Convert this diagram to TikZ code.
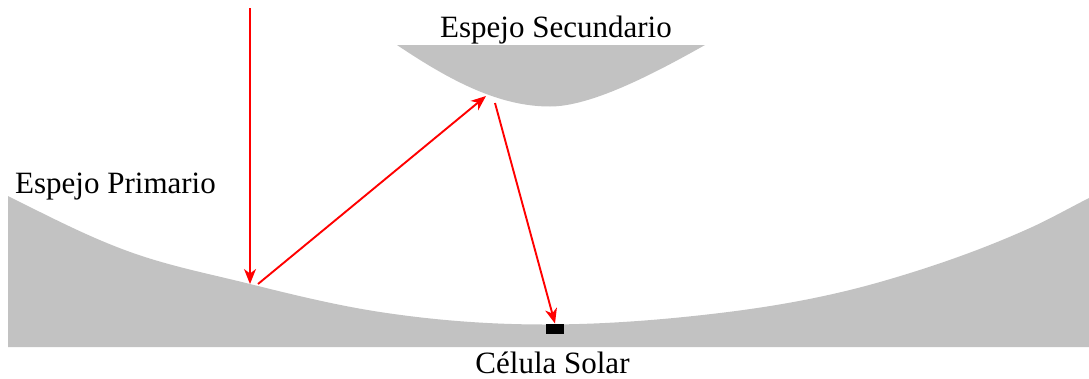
\documentclass[tikz,border=0pt]{standalone}
\usepackage{fontspec}
\setmainfont{Liberation Serif}
\usetikzlibrary{arrows.meta}
\definecolor{mirror}{RGB}{194,194,194}
\tikzset{ray/.style={draw=red,line width=1.9pt,-{Stealth[length=15pt,width=12pt,inset=4.5pt]}},
lab/.style={font=\fontsize{31pt}{33pt}\selectfont,inner sep=0pt,anchor=base}}
\begin{document}
\begin{tikzpicture}[x=1pt,y=-1pt]
\useasboundingbox (0,0) rectangle (1089,378);
\fill[mirror] (8,196) .. controls (49.7,216.8) and (91.3,238.4) .. (133,253)
 .. controls (172,266.7) and (211,274.2) .. (250,284)
 .. controls (293.3,294.8) and (336.7,305.4) .. (380,312)
 .. controls (435,320.4) and (490,324.5) .. (545,324.5)
 .. controls (603.3,324.5) and (661.7,320) .. (720,313)
 .. controls (773.3,306.6) and (826.7,297.2) .. (880,282)
 .. controls (930,267.7) and (980,250.5) .. (1030,228)
 .. controls (1049.7,219.1) and (1069.3,208) .. (1089,198)
 -- (1089,347) -- (8,347) -- cycle;
\fill[mirror] (397,45) -- (705,45) .. controls (650,76) and (590,106.5) .. (550,106.5)
 .. controls (500,106.5) and (452,82) .. (397,45) -- cycle;
\node[fill=black,minimum width=18pt,minimum height=10.5pt,inner sep=0pt] (cell) at (555,329) {};
\node[lab] (ls) at (556,37) {Espejo Secundario};
\node[lab] (lp) at (115.5,193) {Espejo Primario};
\node[lab] (lc) at (552.5,373) {Célula Solar};
\coordinate (a0) at (250,8);
\coordinate (a1) at (250,284);
\coordinate (b0) at (258,284);
\coordinate (b1) at (486,96);
\coordinate (c0) at (495,103);
\draw[ray] (a0) -- (a1);
\draw[ray] (b0) -- (b1);
\draw[ray] (c0) -- (cell.north);
\end{tikzpicture}
\end{document}
